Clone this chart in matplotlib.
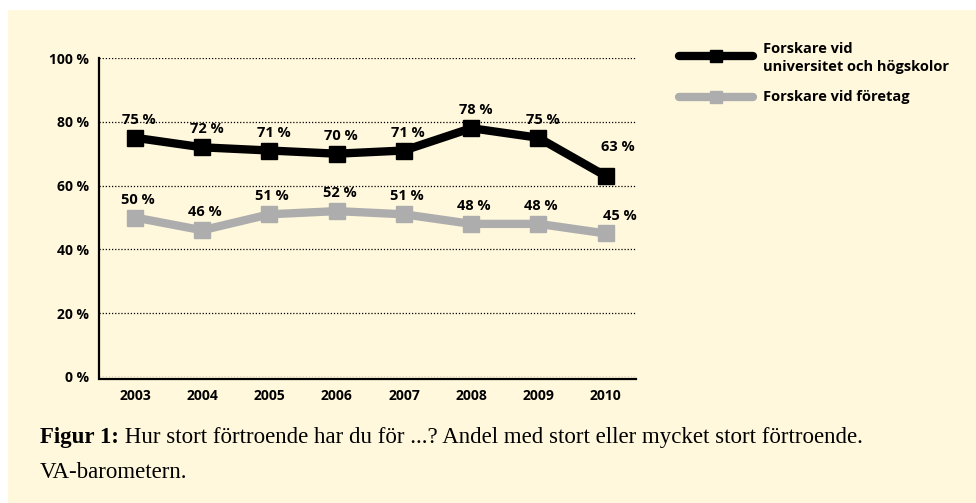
import matplotlib.pyplot as plt
from matplotlib.patches import Rectangle
from matplotlib.lines import Line2D

plt.rcParams["font.family"] = "Open Sans"
plt.rcParams["font.weight"] = "bold"

years = [2003, 2004, 2005, 2006, 2007, 2008, 2009, 2010]
univ = [75, 72, 71, 70, 71, 78, 75, 63]
company = [50, 46, 51, 52, 51, 48, 48, 45]
yticks = [0, 20, 40, 60, 80, 100]

series_names = ["Forskare vid\nuniversitet och högskolor", "Forskare vid företag"]
caption_bold = "Figur 1:"
caption_rest = " Hur stort förtroende har du för ...? Andel med stort eller mycket stort förtroende."
caption_line2 = "VA-barometern."

cream = "#fff8dc"
black = "#000000"
gray = "#adadad"

fig = plt.figure(figsize=(9.76, 5.03), dpi=100)
fig.patch.set_facecolor("white")
# cream panel behind everything
fig.patches.append(Rectangle((8 / 976, 0), 1, 1 - 10 / 503, transform=fig.transFigure,
                             facecolor=cream, edgecolor="none", zorder=0))

ax = fig.add_axes([99 / 976, 1 - 377 / 503, (636 - 99) / 976, (377 - 58) / 503])
ax.set_zorder(2)
ax.set_facecolor("none")
ax.set_xlim(2002.465, 2010.45)
ax.set_ylim(0, 100)

for v in yticks:
    ax.axhline(v, color="black", lw=0.9, ls=(0, (1, 1.5)), zorder=1)

ax.plot(years, company, color=gray, lw=6, marker="s", ms=11, solid_joinstyle="round", zorder=3)
ax.plot(years, univ, color=black, lw=6, marker="s", ms=11, solid_joinstyle="round", zorder=4)

for i, (x, y) in enumerate(zip(years, univ)):
    dx = 9 if i == len(years) - 1 else 3
    dy = 18 if i == len(years) - 1 else 10
    ax.annotate(f"{y} %", (x, y), xytext=(dx, dy), textcoords="offset points",
                fontsize=10.5, ha="center")
for i, (x, y) in enumerate(zip(years, company)):
    dx = 10 if i == len(years) - 1 else 2
    ax.annotate(f"{y} %", (x, y), xytext=(dx, 10), textcoords="offset points",
                fontsize=10.5, ha="center")

ax.set_xticks(years)
ax.set_xticklabels([str(y) for y in years], fontsize=9, fontweight="bold")
ax.set_yticks(yticks)
ax.set_yticklabels([f"{v} %" for v in yticks], fontsize=10, fontweight="bold")
ax.tick_params(length=0, pad=7)
for s in ["top", "right"]:
    ax.spines[s].set_visible(False)
ax.spines["left"].set_linewidth(1.6)
ax.spines["bottom"].set_linewidth(1.6)
ax.spines["bottom"].set_position(("outward", 1.5))
ax.spines["bottom"].set_bounds(2002.465, 2010.45)

# legend drawn by hand in figure coords
for yy, col in [(56, black), (97, gray)]:
    fig.add_artist(Line2D([679 / 976, 753 / 976], [1 - yy / 503] * 2, color=col, lw=6,
                          solid_capstyle="round", transform=fig.transFigure))
    fig.add_artist(Line2D([716 / 976], [1 - yy / 503], color=col, marker="s", ms=9,
                          transform=fig.transFigure))
fig.text(763 / 976, 1 - 58 / 503, series_names[0], fontsize=10.5, va="center", linespacing=1.45)
fig.text(763 / 976, 1 - 97 / 503, series_names[1], fontsize=10.5, va="center")

t = fig.text(40 / 976, 1 - 438 / 503, caption_bold, family="Liberation Serif", fontweight="bold",
             fontsize=16.5, va="center")
fig.canvas.draw()
bb = t.get_window_extent()
fig.text(bb.x1 / 976, 1 - 438 / 503, caption_rest, family="Liberation Serif", fontweight="normal",
         fontsize=16.5, va="center")
fig.text(40 / 976, 1 - 472 / 503, caption_line2, family="Liberation Serif", fontweight="normal",
         fontsize=16.5, va="center")

fig.savefig("out.png", dpi=100)
